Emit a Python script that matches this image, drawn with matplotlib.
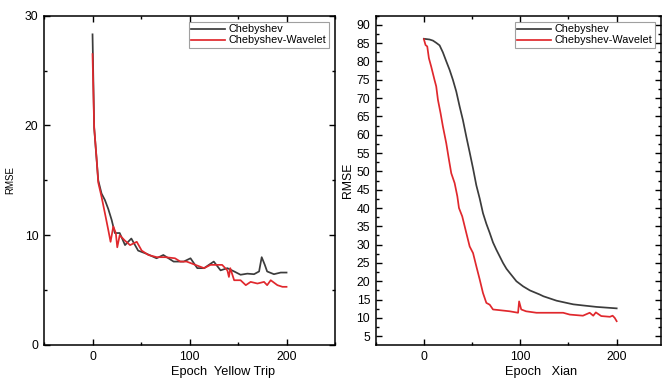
import numpy as np
import matplotlib.pyplot as plt
from matplotlib.ticker import MultipleLocator

plt.rcParams['font.family'] = ['Liberation Sans', 'DejaVu Sans']

# Yellow Trip (left panel)
yt_cheb_epoch = [0, 1.7, 3.5, 5.9, 9.3, 12.8, 16.2, 19.7, 23, 28, 33.5, 40, 47, 56, 66, 73,
                 83.6, 94, 101, 108, 115, 125, 132, 139, 146, 152.6, 159.6, 166.5, 171.7,
                 174.4, 177.6, 180, 187, 194, 200]
yt_cheb_rmse = [28.3, 19.8, 17.7, 15.0, 13.8, 13.2, 12.4, 11.4, 10.2, 10.2, 9.1, 9.7, 8.6, 8.3,
                7.9, 8.2, 7.6, 7.6, 7.9, 7.0, 7.0, 7.6, 6.8, 7.0, 6.7, 6.4, 6.5, 6.45, 6.7,
                8.0, 7.3, 6.7, 6.45, 6.6, 6.6]
yt_wave_epoch = [0, 1.7, 4.1, 5.9, 9.3, 12.8, 16.2, 18.6, 21.4, 24, 25.5, 28, 33.5, 38.7, 45.6,
                 50.7, 57.6, 66.3, 75, 85, 90.5, 97, 106, 115, 121.6, 128.5, 133.6, 139, 140.6,
                 142, 146, 152.6, 158, 163, 170, 176.8, 180, 183.7, 190.6, 195.8, 200]
yt_wave_rmse = [26.5, 19.8, 17.1, 14.8, 13.5, 12.0, 10.5, 9.4, 10.8, 10.2, 8.9, 10.0, 9.5, 9.1,
                9.4, 8.6, 8.2, 8.0, 8.0, 7.9, 7.6, 7.6, 7.3, 7.0, 7.3, 7.3, 7.3, 6.8, 6.2, 7.0,
                5.9, 5.9, 5.45, 5.75, 5.6, 5.75, 5.45, 5.9, 5.45, 5.3, 5.3]

# Xian (right panel)
xa_cheb_epoch = [0, 5.9, 9.4, 12.8, 16.3, 19.7, 23.3, 26.7, 30.1, 33.6, 37.1, 40.5, 44, 47.5,
                 51, 54.4, 57.9, 61.3, 64.8, 68.3, 71.7, 75.2, 82.1, 85.7, 89, 96, 103, 110,
                 120, 124, 137.6, 151.4, 155, 165, 179, 200]
xa_cheb_rmse = [86.2, 86.0, 85.7, 85.1, 84.4, 82.5, 80.0, 77.7, 75.0, 71.8, 67.7, 64.0, 59.5,
                55.2, 50.8, 46.2, 42.6, 38.6, 35.7, 33.2, 30.6, 28.6, 25.0, 23.4, 22.3, 20.0,
                18.6, 17.5, 16.4, 15.9, 14.7, 13.9, 13.7, 13.4, 13.0, 12.6]
xa_wave_epoch = [0, 1.7, 3.5, 5.2, 7.6, 11, 12.8, 14.6, 17.3, 19.7, 23.2, 26, 28.4, 31.9, 34.7,
                 36.4, 39.8, 44, 47.5, 51, 54.4, 57.9, 61.3, 64.8, 68.3, 71.7, 78.7, 89, 97.7,
                 98.8, 101, 106, 116.8, 130.6, 144.5, 151.4, 165, 172, 175.7, 178.4, 184, 193,
                 195.8, 198, 200]
xa_wave_rmse = [86.1, 84.5, 84.1, 80.9, 78.6, 75.0, 73.2, 69.5, 65.9, 62.3, 57.7, 53.2, 49.5,
                46.8, 43.2, 40.0, 37.7, 33.2, 29.5, 27.7, 24.1, 20.5, 16.8, 14.1, 13.6, 12.3,
                12.1, 11.8, 11.4, 14.5, 12.3, 11.8, 11.4, 11.4, 11.4, 10.9, 10.6, 11.4, 10.6,
                11.5, 10.5, 10.3, 10.6, 10.0, 9.1]

labels = ['Chebyshev', 'Chebyshev-Wavelet']
colors = ['#3c3c3c', '#e0282d']

fig = plt.figure(figsize=(6.62, 3.81), dpi=100)
ax1 = fig.add_axes([0.0665, 0.0945, 0.4396, 0.8643])
ax2 = fig.add_axes([0.5675, 0.0945, 0.431, 0.8643])


def style_axis(ax, ymajor, yminor):
    ax.xaxis.set_major_locator(MultipleLocator(100))
    ax.xaxis.set_minor_locator(MultipleLocator(50))
    ax.yaxis.set_major_locator(MultipleLocator(ymajor))
    ax.yaxis.set_minor_locator(MultipleLocator(yminor))
    ax.tick_params(which='both', direction='in', top=True, right=True, width=1.0,
                   labelsize=8.8, pad=4)
    ax.tick_params(which='major', length=4)
    ax.tick_params(which='minor', length=2.5)
    for s in ax.spines.values():
        s.set_linewidth(1.1)


ax1.plot(yt_cheb_epoch, yt_cheb_rmse, color=colors[0], lw=1.25, label=labels[0])
ax1.plot(yt_wave_epoch, yt_wave_rmse, color=colors[1], lw=1.25, label=labels[1])
ax1.set_xlim(-50, 250)
ax1.set_ylim(0, 30)
style_axis(ax1, 10, 5)
ax1.set_xlabel('Epoch  Yellow Trip', fontsize=9.2)
ax1.xaxis.set_label_coords(0.615, -0.065)
ax1.set_ylabel('RMSE', fontsize=7)
ax1.yaxis.set_label_coords(-0.1, 0.5)

ax2.plot(xa_cheb_epoch, xa_cheb_rmse, color=colors[0], lw=1.25, label=labels[0])
ax2.plot(xa_wave_epoch, xa_wave_rmse, color=colors[1], lw=1.25, label=labels[1])
ax2.set_xlim(-50, 246)
ax2.set_ylim(2.6, 92.5)
style_axis(ax2, 5, 2.5)
ax2.set_xlabel('Epoch   Xian', fontsize=9.2)
ax2.xaxis.set_label_coords(0.58, -0.065)
ax2.set_ylabel('RMSE', fontsize=8.8)
ax2.yaxis.set_label_coords(-0.075, 0.5)

for ax in (ax1, ax2):
    leg = ax.legend(loc='upper right', fontsize=7.8, frameon=True, fancybox=False,
                    borderpad=0.2, labelspacing=0.1, handlelength=3.2, handletextpad=0.3,
                    borderaxespad=0.6)
    leg.get_frame().set_edgecolor('#888888')
    leg.get_frame().set_linewidth(0.8)

fig.savefig('out.png', dpi=100)
